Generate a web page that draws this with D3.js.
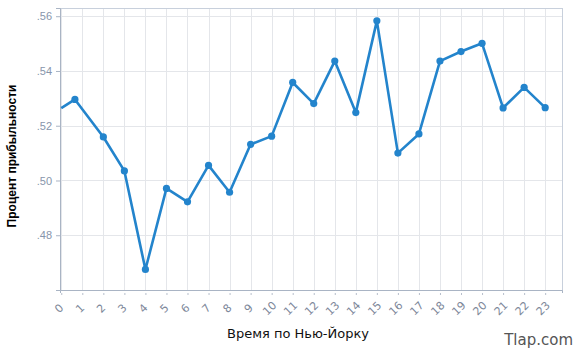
<!DOCTYPE html>
<html>
<head>
<meta charset="utf-8">
<script src="https://cdn.jsdelivr.net/npm/d3@7"></script>
<style>
  body { margin: 0; background: #fff; }
  svg { display: block; }
</style>
</head>
<body>
<svg id="chart" width="580" height="351"></svg>
<script>
// hour of day (New York) and win rate
const hours = [0, 0.65, 2, 3, 4, 5, 6, 7, 8, 9, 10, 11, 12, 13, 14, 15, 16, 17, 18, 19, 20, 21, 22, 23];
const winRate = [0.5264, 0.5296, 0.5159, 0.5035, 0.4675, 0.4971, 0.4922, 0.5055, 0.4957, 0.5132,
  0.5162, 0.5358, 0.5281, 0.5436, 0.5248, 0.5583, 0.5100, 0.5170, 0.5436, 0.5471, 0.5501, 0.5265, 0.5340, 0.5266];
const xTicks = d3.range(0, 24);
const yTicks = [0.48, 0.50, 0.52, 0.54, 0.56];

const svg = d3.select("#chart");
const margin = { top: 8, right: 18, bottom: 61, left: 60 };
const width = +svg.attr("width");
const height = +svg.attr("height");
const innerW = width - margin.left - margin.right;
const innerH = height - margin.top - margin.bottom;

const x = d3.scaleLinear().domain([-0.06, 23.8]).range([0, innerW]);
const y = d3.scaleLinear().domain([0.46, 0.563]).range([innerH, 0]);

const g = svg.append("g").attr("transform", `translate(${margin.left},${margin.top})`);

// grid
g.append("g")
  .selectAll("line")
  .data(xTicks)
  .join("line")
  .attr("x1", d => Math.round(x(d)) + 0.5)
  .attr("x2", d => Math.round(x(d)) + 0.5)
  .attr("y1", 0)
  .attr("y2", innerH)
  .attr("stroke", "#e4e6ea");

g.append("g")
  .selectAll("line")
  .data(yTicks)
  .join("line")
  .attr("x1", 0)
  .attr("x2", innerW)
  .attr("y1", d => Math.round(y(d)) + 0.5)
  .attr("y2", d => Math.round(y(d)) + 0.5)
  .attr("stroke", "#e4e6ea");

// frame
g.append("rect")
  .attr("x", 0.5).attr("y", 0.5)
  .attr("width", innerW).attr("height", innerH)
  .attr("fill", "none")
  .attr("stroke", "#c8d0dc");

// y axis
const yAxis = g.append("g")
  .call(d3.axisLeft(y).tickValues(yTicks).tickSize(4).tickFormat(d => d3.format(".2f")(d).replace(/^0/, "")));
yAxis.select(".domain").attr("stroke", "#a9b4c4");
yAxis.selectAll(".tick line").attr("stroke", "#a9b4c4");
yAxis.selectAll(".tick text")
  .attr("x", -8)
  .attr("fill", "#8795ab")
  .style("font", "11px 'Liberation Sans', Arial, sans-serif");

// x axis
const xAxis = g.append("g")
  .attr("transform", `translate(0,${innerH})`)
  .call(d3.axisBottom(x).tickValues(xTicks).tickSize(3).tickFormat(d3.format("d")));
xAxis.select(".domain").attr("stroke", "#a9b4c4");
xAxis.selectAll(".tick line").attr("stroke", "#b7bfcc").attr("y1", 3).attr("y2", 5);
xAxis.selectAll(".tick text")
  .attr("y", 0)
  .attr("dy", 0)
  .attr("text-anchor", "middle")
  .attr("transform", "translate(0,21) rotate(-45)")
  .attr("fill", "#7d8799")
  .style("font", "11px 'DejaVu Sans', sans-serif");

// line
const clipId = "plot-clip";
svg.append("defs").append("clipPath").attr("id", clipId)
  .append("rect").attr("width", innerW).attr("height", innerH);

const points = hours.map((h, i) => ({ h: h, v: winRate[i] }));
const line = d3.line().x(d => x(d.h)).y(d => y(d.v));

g.append("path")
  .datum(points)
  .attr("clip-path", `url(#${clipId})`)
  .attr("fill", "none")
  .attr("stroke", "#2384cc")
  .attr("stroke-width", 2.6)
  .attr("stroke-linejoin", "round")
  .attr("d", line);

g.append("g")
  .selectAll("circle")
  .data(points.slice(1))
  .join("circle")
  .attr("cx", d => x(d.h))
  .attr("cy", d => y(d.v))
  .attr("r", 3.6)
  .attr("fill", "#2384cc");

// titles
svg.append("text")
  .attr("transform", `translate(16,${margin.top + innerH / 2 + 7}) rotate(-90)`)
  .attr("text-anchor", "middle")
  .attr("fill", "#000")
  .style("font", "bold 12px 'Liberation Sans', Arial, sans-serif")
  .text("Процент прибыльности");

svg.append("text")
  .attr("x", 298)
  .attr("y", 338)
  .attr("text-anchor", "middle")
  .attr("fill", "#111")
  .style("font", "13px 'DejaVu Sans', sans-serif")
  .text("Время по Нью-Йорку");

svg.append("text")
  .attr("x", 573)
  .attr("y", 345)
  .attr("text-anchor", "end")
  .attr("fill", "#555")
  .style("font", "15px 'DejaVu Sans', sans-serif")
  .text("Tlap.com");
</script>
</body>
</html>
